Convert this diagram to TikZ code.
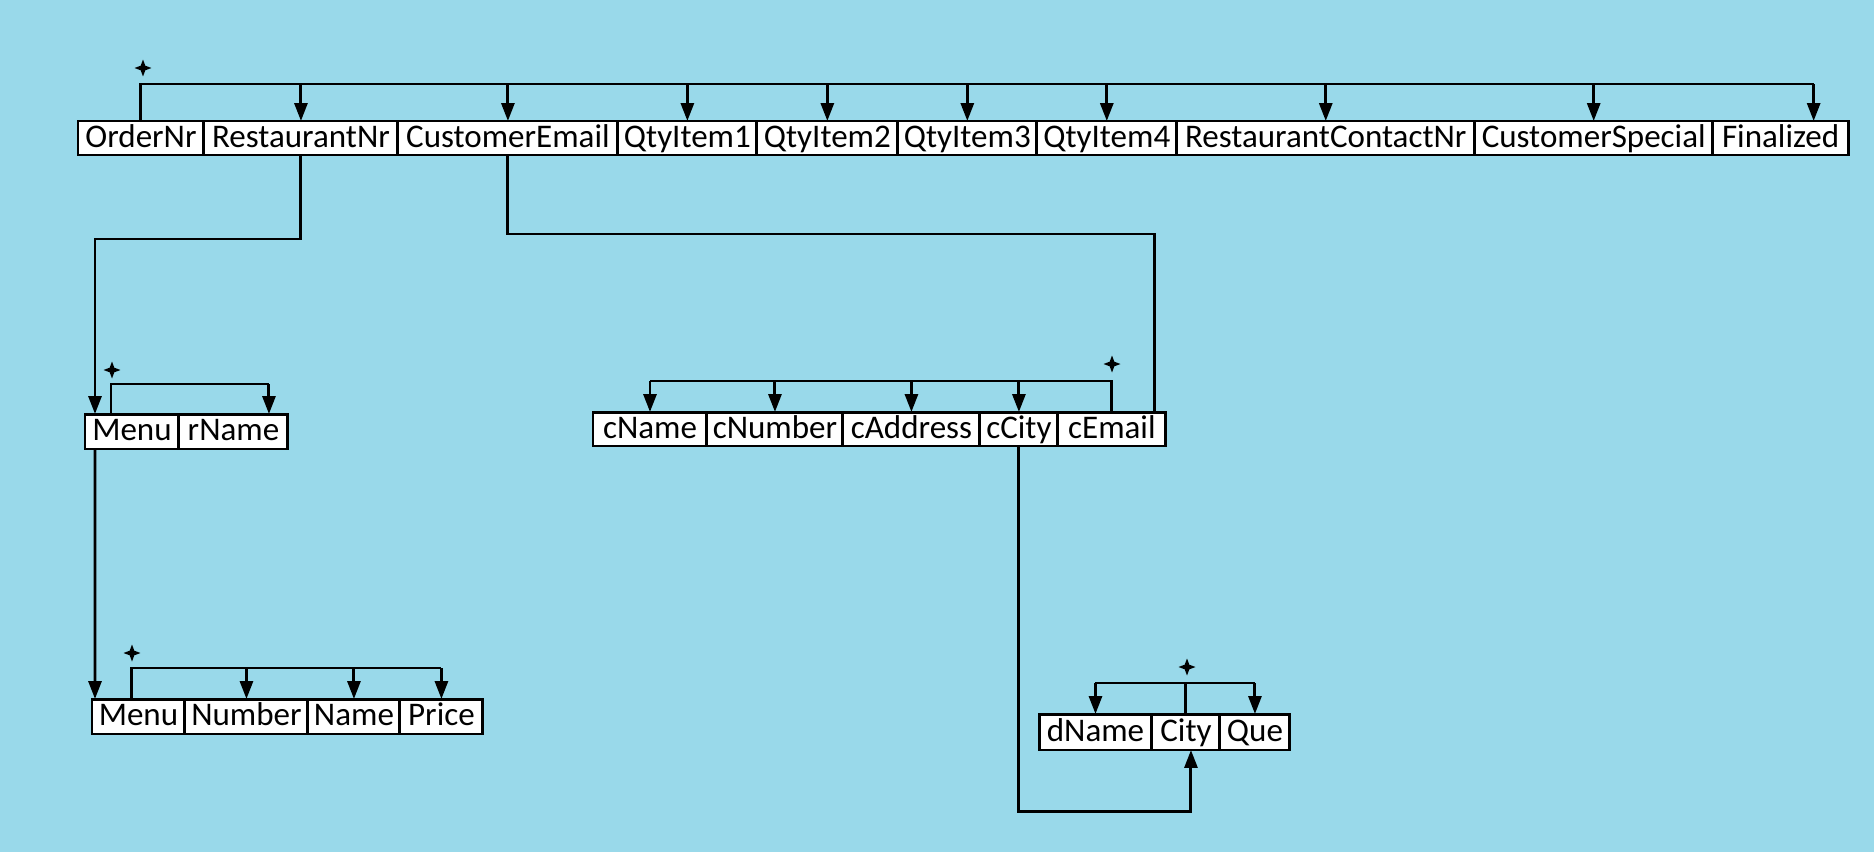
\documentclass[tikz,border=0pt]{standalone}
\usepackage{fontspec}
\setmainfont{Carlito}
\usetikzlibrary{arrows.meta,positioning,shapes.geometric}
\definecolor{bgSky}{RGB}{153,217,234}

\begin{document}
\begin{tikzpicture}[
  x=0.02cm, y=-0.02cm,
  font=\fontsize{18.8}{22}\selectfont,
  cell/.style={draw, fill=white, line width=1.7pt, inner sep=0pt, outer sep=0pt, minimum height=0.68cm, text height=14pt, text depth=3.6pt},
  lead/.style={cell, anchor=west},
  ln/.style={line width=1.7pt},
  a/.style={ln, -{Triangle[length=0.36cm,width=0.26cm]}},
  spark/.style={star, star points=4, star point ratio=2.6, fill=black, inner sep=0pt, minimum size=0.34cm}
]
\fill[bgSky] (0,0) rectangle (1874,852);

% order table
\node[lead, minimum width=2.52cm] (ordnr) at (78,138) {OrderNr};
\node[cell, minimum width=3.88cm, right=0pt of ordnr] (rnr) {RestaurantNr};
\node[cell, minimum width=4.40cm, right=0pt of rnr] (cemail) {CustomerEmail};
\node[cell, minimum width=2.78cm, right=0pt of cemail] (q1) {QtyItem1};
\node[cell, minimum width=2.82cm, right=0pt of q1] (q2) {QtyItem2};
\node[cell, minimum width=2.78cm, right=0pt of q2] (q3) {QtyItem3};
\node[cell, minimum width=2.80cm, right=0pt of q3] (q4) {QtyItem4};
\node[cell, minimum width=5.96cm, right=0pt of q4] (rcnr) {RestaurantContactNr};
\node[cell, minimum width=4.76cm, right=0pt of rcnr] (cspec) {CustomerSpecial};
\node[cell, minimum width=2.72cm, right=0pt of cspec] (fin) {Finalized};

% restaurant table
\node[lead, minimum width=1.88cm, minimum height=0.70cm] (menu1) at (85,431.5) {Menu};
\node[cell, minimum width=2.18cm, minimum height=0.70cm, right=0pt of menu1] (rname) {rName};

% customer table
\node[lead, minimum width=2.28cm] (cname) at (593,429) {cName};
\node[cell, minimum width=2.72cm, right=0pt of cname] (cnumber) {cNumber};
\node[cell, minimum width=2.74cm, right=0pt of cnumber] (caddress) {cAddress};
\node[cell, minimum width=1.56cm, right=0pt of caddress] (ccity) {cCity};
\node[cell, minimum width=2.16cm, right=0pt of ccity] (cemail2) {cEmail};

% menu table
\node[lead, minimum width=1.86cm, minimum height=0.70cm] (menu2) at (92,716.5) {Menu};
\node[cell, minimum width=2.46cm, minimum height=0.70cm, right=0pt of menu2] (number) {Number};
\node[cell, minimum width=1.84cm, minimum height=0.70cm, right=0pt of number] (name) {Name};
\node[cell, minimum width=1.66cm, minimum height=0.70cm, right=0pt of name] (price) {Price};

% delivery table
\node[lead, minimum width=2.26cm, minimum height=0.72cm] (dname) at (1039,732) {dName};
\node[cell, minimum width=1.36cm, minimum height=0.72cm, right=0pt of dname] (city) {City};
\node[cell, minimum width=1.40cm, minimum height=0.72cm, right=0pt of city] (que) {Que};

% key marks
\node[spark] (k1) at (143,68) {};
\node[spark] (k2) at (112,370) {};
\node[spark] (k3) at (1112,364) {};
\node[spark] (k4) at (132,653) {};
\node[spark] (k5) at (1187,667) {};

% bar levels and bends
\coordinate (topbar) at (0,84);
\coordinate (rbar) at (0,384);
\coordinate (cbar) at (0,381);
\coordinate (mbar) at (0,668);
\coordinate (dbar) at (0,683);
\coordinate (rbend) at (0,239);
\coordinate (cebend) at (0,234);
\coordinate (dbend) at (0,811);
\coordinate (finin) at ([xshift=0.66cm]fin.north);
\coordinate (rnamein) at ([xshift=0.71cm]rname.north);
\coordinate (m1src) at ([xshift=0.52cm]menu1.north west);
\coordinate (m1in) at ([xshift=0.2cm]menu1.north west);
\coordinate (m1out) at ([xshift=0.2cm]menu1.south west);
\coordinate (m2in) at ([xshift=0.06cm]menu2.north west);
\coordinate (m2src) at ([xshift=0.8cm]menu2.north west);
\coordinate (cein) at ([xshift=0.86cm]cemail2.north);
\coordinate (cityin) at ([xshift=0.1cm]city.south);

% order dependencies
\draw[ln] (ordnr.north) |- (finin |- topbar);
\draw[a] (rnr.north |- topbar) -- (rnr.north);
\draw[a] (cemail.north |- topbar) -- (cemail.north);
\draw[a] (q1.north |- topbar) -- (q1.north);
\draw[a] (q2.north |- topbar) -- (q2.north);
\draw[a] (q3.north |- topbar) -- (q3.north);
\draw[a] (q4.north |- topbar) -- (q4.north);
\draw[a] (rcnr.north |- topbar) -- (rcnr.north);
\draw[a] (cspec.north |- topbar) -- (cspec.north);
\draw[a] (finin |- topbar) -- (finin);

% restaurant dependencies
\draw[ln] (m1src) |- (rnamein |- rbar);
\draw[a] (rnamein |- rbar) -- (rnamein);

% customer dependencies
\draw[ln] (cemail2.north) |- (cname.north |- cbar);
\draw[a] (cname.north |- cbar) -- (cname.north);
\draw[a] (cnumber.north |- cbar) -- (cnumber.north);
\draw[a] (caddress.north |- cbar) -- (caddress.north);
\draw[a] (ccity.north |- cbar) -- (ccity.north);

% menu dependencies
\draw[ln] (m2src) |- (price.north |- mbar);
\draw[a] (number.north |- mbar) -- (number.north);
\draw[a] (name.north |- mbar) -- (name.north);
\draw[a] (price.north |- mbar) -- (price.north);

% delivery dependencies
\draw[ln] (dname.north |- dbar) -- (que.north |- dbar);
\draw[ln] (city.north) -- (city.north |- dbar);
\draw[a] (dname.north |- dbar) -- (dname.north);
\draw[a] (que.north |- dbar) -- (que.north);

% links between tables
\draw[a] (rnr.south) |- (m1in |- rbend) -- (m1in);
\draw[ln] (cemail.south) |- (cein |- cebend) -- (cein);
\draw[a] (m1out) -- (m2in);
\draw[a] (ccity.south) |- (cityin |- dbend) -- (cityin);
\end{tikzpicture}
\end{document}
